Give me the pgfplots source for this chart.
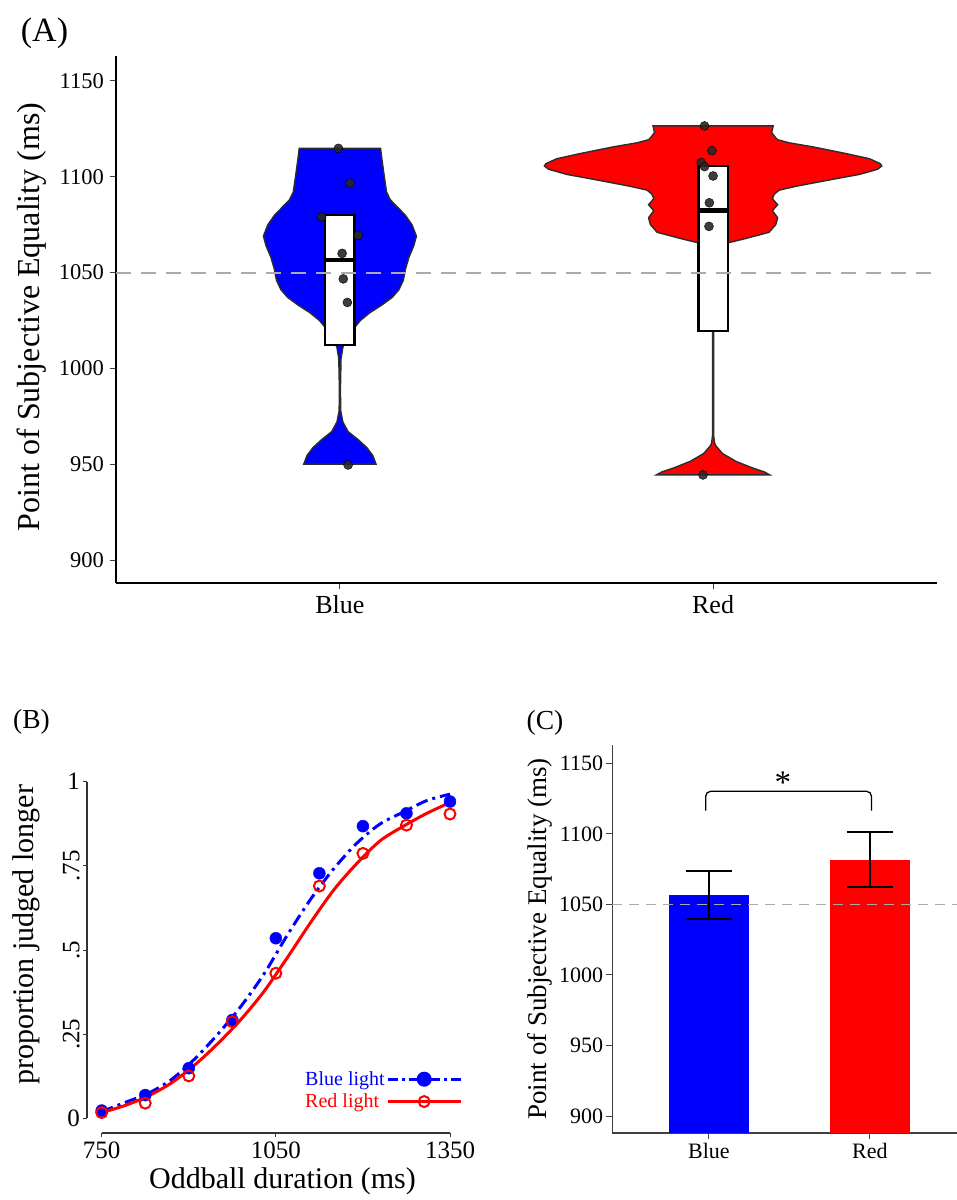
\documentclass[border=0pt]{standalone}
\usepackage{fontspec}
\setmainfont{Liberation Serif}
\usepackage{graphicx}
\usepackage{pgfplots}
\pgfplotsset{compat=1.18}
\definecolor{vblue}{RGB}{0,0,255}
\definecolor{vred}{RGB}{255,0,0}
\definecolor{ptgray}{RGB}{40,40,40}
\definecolor{dashgray}{RGB}{170,170,170}
\definecolor{outl}{RGB}{45,45,45}
\newcommand{\fs}[1]{\fontsize{#1bp}{#1bp}\selectfont}
\begin{document}
\begin{tikzpicture}
\path[use as bounding box] (0bp,0bp) rectangle (957bp,-1200bp);
% ---------------- Panel A ----------------
\begin{axis}[
  at={(116bp,-583bp)}, anchor=south west,
  scale only axis, width=821bp, height=527bp,
  xmin=0.4, xmax=2.6, ymin=888, ymax=1163,
  axis lines=left, axis line style={-, line width=2.5bp, black},
  xtick={1,2}, xticklabels={Blue,Red},
  ytick={900,950,1000,1050,1100,1150},
  tick align=outside, major tick length=6bp,
  tick style={line width=1bp, black!75},
  /pgf/number format/assume math mode=true,
  /pgf/number format/1000 sep={},
  xticklabel style={font=\fs{26}, inner sep=6bp},
  yticklabel style={font=\fs{22.5}, inner sep=6bp},
  ylabel={Point of Subjective Equality (ms)},
  ylabel style={font=\fs{32}, at={(axis description cs:-0.1027,0.505)}, anchor=center},
  clip=false,
]
% blue violin
\addplot[fill=vblue, draw=outl, line width=1.4bp, mark=none] coordinates {
(1.109,1114.8) (1.112,1110) (1.119,1100) (1.125,1092) (1.135,1088) (1.155,1084) (1.175,1080) (1.193,1075) (1.205,1069) (1.198,1064) (1.185,1058) (1.176,1052) (1.170,1046) (1.158,1041) (1.140,1037) (1.112,1033) (1.080,1029) (1.055,1025) (1.038,1021) (1.020,1016) (1.008,1011) (1.003,1005) (1.0015,990) (1.002,978) (1.008,972) (1.022,967) (1.049,962.8) (1.072,958.7) (1.088,954.6) (1.094,951.5) (1.097,950)
(0.903,950) (0.906,951.5) (0.912,954.6) (0.928,958.7) (0.951,962.8) (0.978,967) (0.992,972) (0.998,978) (0.9985,990) (0.997,1005) (0.992,1011) (0.980,1016) (0.962,1021) (0.945,1025) (0.920,1029) (0.888,1033) (0.860,1037) (0.842,1041) (0.830,1046) (0.824,1052) (0.815,1058) (0.802,1064) (0.795,1069) (0.807,1075) (0.825,1080) (0.845,1084) (0.865,1088) (0.875,1092) (0.881,1100) (0.888,1110) (0.891,1114.8)
} -- cycle;
% red violin
\addplot[fill=vred, draw=outl, line width=1.4bp, mark=none] coordinates {
(2.161,1126.5) (2.157,1123) (2.168,1120.3) (2.173,1119.3) (2.204,1117.7) (2.267,1115.6) (2.356,1112.1) (2.419,1109.4) (2.448,1106.8) (2.452,1105.6) (2.441,1103.9) (2.392,1101.2) (2.311,1098.3) (2.222,1095) (2.177,1093) (2.164,1090.9) (2.159,1088.5) (2.173,1085.4) (2.159,1082.3) (2.173,1078.6) (2.168,1075) (2.150,1071) (2.088,1067.8) (2.038,1065.4) (2.015,1063) (2.004,1058) (2.0015,1040) (2.0015,965) (2.004,961) (2.007,959.7) (2.025,955.6) (2.061,951.5) (2.106,948) (2.137,946) (2.152,944.4)
(1.848,944.4) (1.863,946) (1.894,948) (1.939,951.5) (1.975,955.6) (1.993,959.7) (1.996,961) (1.9985,965) (1.9985,1040) (1.996,1058) (1.985,1063) (1.962,1065.4) (1.912,1067.8) (1.850,1071) (1.832,1075) (1.827,1078.6) (1.841,1082.3) (1.827,1085.4) (1.841,1088.5) (1.836,1090.9) (1.823,1093) (1.778,1095) (1.689,1098.3) (1.608,1101.2) (1.559,1103.9) (1.548,1105.6) (1.552,1106.8) (1.581,1109.4) (1.644,1112.1) (1.733,1115.6) (1.796,1117.7) (1.827,1119.3) (1.832,1120.3) (1.843,1123) (1.839,1126.5)
} -- cycle;
% boxes
\addplot[fill=white, draw=black, line width=2.2bp, mark=none] coordinates {(0.961,1012) (1.039,1012) (1.039,1080.2) (0.961,1080.2)} -- cycle;
\addplot[fill=white, draw=black, line width=2.2bp, mark=none] coordinates {(1.961,1019.5) (2.039,1019.5) (2.039,1105.6) (1.961,1105.6)} -- cycle;
% medians
\addplot[black, line width=4.5bp, mark=none] coordinates {(0.961,1056.6) (1.039,1056.6)};
\addplot[black, line width=4.5bp, mark=none] coordinates {(1.961,1082.3) (2.039,1082.3)};
% reference line
\addplot[dashgray, line width=2bp, dash pattern=on 15bp off 10bp, mark=none] coordinates {(0.4,1050) (2.6,1050)};
% points
\addplot[only marks, mark=*, mark size=4.5bp, mark options={fill=ptgray, draw=none, fill opacity=0.9}] coordinates {
(0.996,1114.8) (1.027,1096.7) (0.951,1079) (1.049,1069.5) (1.006,1060) (1.009,1046.7) (1.020,1034.4) (1.022,949.6)};
\addplot[only marks, mark=*, mark size=4.5bp, mark options={fill=ptgray, draw=none, fill opacity=0.9}] coordinates {
(1.977,1126.5) (1.997,1113.6) (1.968,1107.4) (1.977,1105.3) (2.000,1100.4) (1.990,1086.4) (1.989,1074.1) (1.973,944.4)};
\end{axis}
% ---------------- Panel B ----------------
\begin{axis}[
  at={(101.7bp,-1118.3bp)}, anchor=south west,
  scale only axis, width=348.3bp, height=336.6bp,
  xmin=750, xmax=1350, ymin=0, ymax=1,
  axis lines=left, axis line style={-, line width=1.1bp, black!80},
  axis x line shift=14.7bp, axis y line shift=14.7bp,
  xtick={750,1050,1350},
  ytick={0,0.25,0.5,0.75,1},
  yticklabels={0,\rotatebox{90}{.25},\rotatebox{90}{.5},\rotatebox{90}{.75},1},
  tick align=outside, major tick length=4bp,
  tick style={line width=1bp, black!80},
  /pgf/number format/assume math mode=true,
  /pgf/number format/1000 sep={},
  xticklabel style={font=\fs{25}, inner sep=5bp},
  yticklabel style={font=\fs{25}, inner sep=3bp},
  xlabel={Oddball duration (ms)},
  xlabel style={font=\fs{30}, at={(axis description cs:0.519,-0.188)}, anchor=center},
  ylabel={proportion judged longer},
  ylabel style={font=\fs{30}, at={(axis description cs:-0.217,0.545)}, anchor=center},
  clip=false,
  legend style={at={(axis description cs:1.037,0.083)}, anchor=east, draw=none, fill=none, inner sep=0pt, row sep=3bp, font=\fs{20}, nodes={inner sep=2bp}},
  legend cell align=left,
  legend plot pos=right,
  legend image code/.code={\draw[mark repeat=2,mark phase=2,#1] plot coordinates {(0bp,0bp) (36bp,0bp) (73bp,0bp)};},
]
\addlegendimage{vblue, line width=3bp, dash pattern=on 10bp off 4bp on 3bp off 4bp, mark=*, mark size=6bp, mark options={solid, fill=vblue}}
\addlegendentry{\textcolor{vblue}{Blue light}}
\addlegendimage{vred, line width=3bp, mark=o, mark size=5.5bp, mark options={solid, fill=white, line width=2bp}}
\addlegendentry{\textcolor{vred}{Red light}}
\addplot[vblue, line width=3bp, dash pattern=on 12bp off 5bp on 3bp off 5bp, smooth, mark=none, forget plot] coordinates {
(750,0.020) (790,0.047) (830,0.074) (870,0.115) (910,0.176) (950,0.250) (990,0.333) (1030,0.430) (1070,0.545) (1110,0.651) (1150,0.742) (1190,0.818) (1230,0.875) (1270,0.910) (1310,0.944) (1350,0.963)};
\addplot[vred, line width=3bp, smooth, mark=none, forget plot] coordinates {
(750,0.017) (790,0.038) (830,0.066) (870,0.105) (910,0.158) (950,0.222) (990,0.294) (1030,0.378) (1070,0.478) (1110,0.582) (1150,0.679) (1190,0.758) (1230,0.825) (1270,0.868) (1310,0.906) (1350,0.938)};
\addplot[only marks, mark=*, mark size=6bp, mark options={fill=vblue, draw=vblue}, forget plot] coordinates {
(750,0.023) (825,0.069) (900,0.149) (975,0.292) (1050,0.535) (1125,0.728) (1200,0.868) (1275,0.906) (1350,0.941)};
\addplot[only marks, mark=o, mark size=5.5bp, mark options={draw=vred, line width=2bp}, forget plot] coordinates {
(750,0.017) (825,0.045) (900,0.126) (975,0.287) (1050,0.431) (1125,0.690) (1200,0.787) (1275,0.871) (1350,0.904)};
\end{axis}
% ---------------- Panel C ----------------
\begin{axis}[
  at={(612.3bp,-1133bp)}, anchor=south west,
  scale only axis, width=354.2bp, height=388bp,
  xmin=0.4, xmax=2.6, ymin=888, ymax=1163,
  axis lines=left, axis line style={-, line width=1.3bp, black!75},
  xtick={1,2}, xticklabels={Blue,Red},
  ytick={900,950,1000,1050,1100,1150},
  tick align=outside, major tick length=6bp,
  tick style={line width=1bp, black!75},
  /pgf/number format/assume math mode=true,
  /pgf/number format/1000 sep={},
  xticklabel style={font=\fs{22}, inner sep=4bp},
  yticklabel style={font=\fs{22}, inner sep=3bp},
  ylabel={Point of Subjective Equality (ms)},
  ylabel style={font=\fs{27}, at={(axis description cs:-0.204,0.5)}, anchor=center},
]
\addplot[ybar, bar width=80bp, bar shift=0pt, fill=vblue, draw=none] coordinates {(1,1056.6)};
\addplot[ybar, bar width=80bp, bar shift=0pt, fill=vred, draw=none] coordinates {(2,1081.8)};
\addplot[dashgray, line width=1.6bp, dash pattern=on 10bp off 7bp, mark=none] coordinates {(0.4,1050) (2.6,1050)};
\addplot[black, draw=none, mark=none,
  error bars/.cd, y dir=both, y explicit,
  error bar style={draw=black, line width=2bp, solid},
  error mark options={rotate=90, draw=black, line width=2bp, mark size=23.3bp}] coordinates {(1,1056.6) +- (0,17) (2,1081.8) +- (0,19.5)};
\addplot[black, line width=1.3bp, rounded corners=5bp, mark=none] coordinates {(0.98,1116.5) (0.98,1130.2) (2.01,1130.2) (2.01,1116.5)};
\node[font=\fs{33}] at (axis cs:1.46,1136) {*};
\end{axis}
% panel letters
\node[font=\fs{34}] at (44.5bp,-33bp) {(A)};
\node[font=\fs{27.5}] at (31.5bp,-722bp) {(B)};
\node[font=\fs{27.5}] at (545bp,-723bp) {(C)};
\end{tikzpicture}
\end{document}
